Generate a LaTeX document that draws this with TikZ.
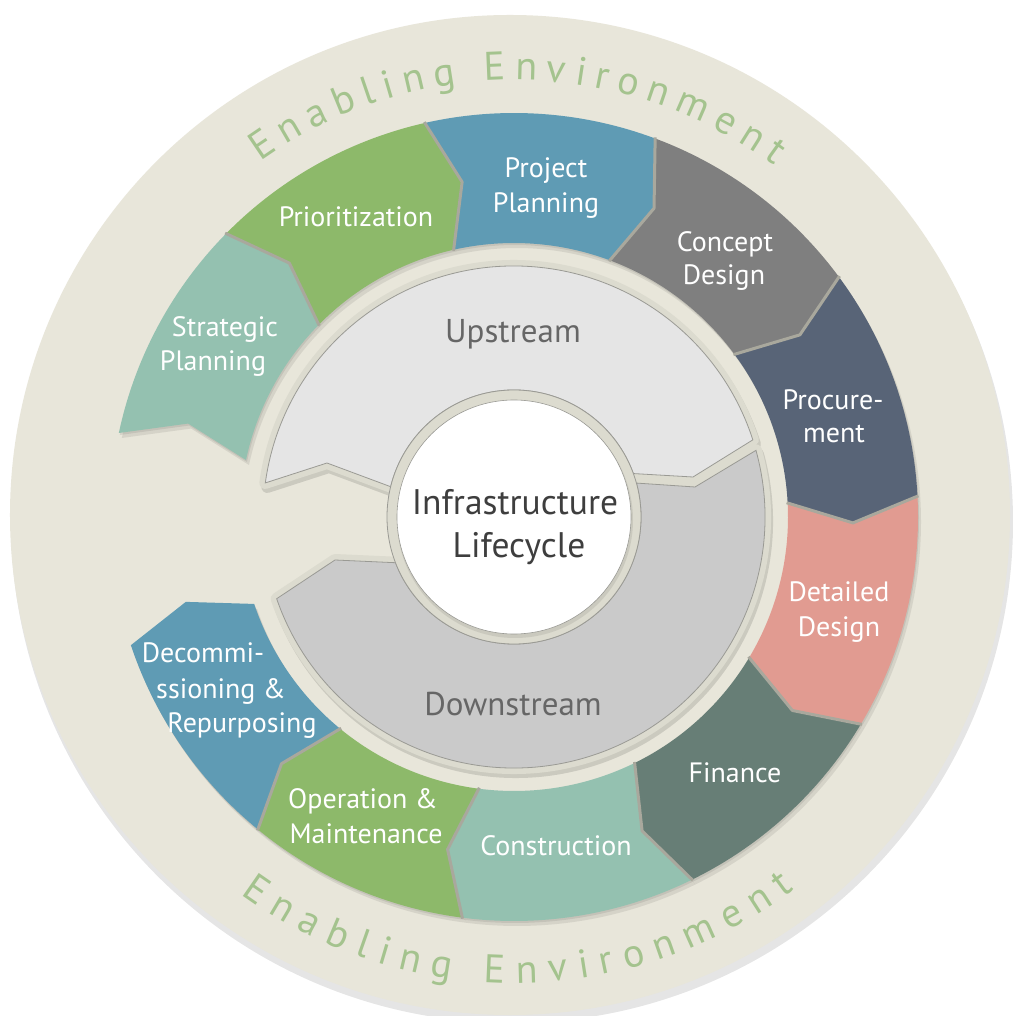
\documentclass[tikz,border=0pt]{standalone}
\usepackage{fontspec}
\setmainfont{PT Sans}
\usetikzlibrary{decorations.text}

\definecolor{bgbeige}{HTML}{E8E6DA}
\definecolor{framec}{HTML}{DCDBCF}
\definecolor{gapc}{HTML}{A9A89D}
\definecolor{ringline}{HTML}{9A9A94}
\definecolor{envgreen}{HTML}{A4C38E}
\definecolor{cTeal}{HTML}{94C1B0}
\definecolor{cGreen}{HTML}{8DB96A}
\definecolor{cBlue}{HTML}{5F9BB4}
\definecolor{cGrey}{HTML}{7F7F7F}
\definecolor{cSlate}{HTML}{586477}
\definecolor{cSalmon}{HTML}{E19B91}
\definecolor{cDark}{HTML}{677E76}
\definecolor{upc}{HTML}{E5E5E5}
\definecolor{downc}{HTML}{CACACA}
\definecolor{streamtext}{HTML}{666666}
\definecolor{hubtext}{HTML}{3E3E3E}

\pgfdeclareradialshading{hubshade}{\pgfpoint{0bp}{-2bp}}{color(0bp)=(white); color(36bp)=(white); color(46bp)=(black!5); color(50bp)=(black!20)}

\newcommand\segfill[3]{\fill[#3] (#1:404pt) arc[start angle=#1, end angle=#2, radius=404pt] -- ({#2-4}:339pt) -- (#2:274pt) arc[start angle=#2, end angle=#1, radius=274pt] -- ({#1-4}:339pt) -- cycle;}
\newcommand\segbound[1]{\draw[gapline] (#1:405pt) -- ({#1-4}:339pt) -- (#1:273pt);}
% label: name, x, y, text
\newcommand\lbl[4]{\node[lbl] (#1) at (#2,#3) {#4};}

\begin{document}
\begin{tikzpicture}[x=1pt,y=1pt,
  lbl/.style={text=white, font=\fontsize{28}{28}\selectfont, anchor=base, inner sep=0pt},
  streamlbl/.style={text=streamtext, font=\fontsize{33}{33}\selectfont, anchor=base, inner sep=0pt},
  hublbl/.style={text=hubtext, font=\fontsize{35.5}{35.5}\selectfont, anchor=base, inner sep=0pt},
  gapline/.style={draw=gapc, line width=3pt, line join=round},
  ringedge/.style={draw=ringline, line width=.8pt},
  envtext/.style={decorate, decoration={text along path, text color=envgreen,
      text={|\fontsize{40}{40}\selectfont|Enabling Environment}, text align={fit to path}}},
]
\useasboundingbox (-514,-499) rectangle (498,517);
\fill[white] (-514,-499) rectangle (498,517);

% outer disc
\fill[black, opacity=.10] (-2,-5) circle[radius=501pt];
\fill[bgbeige] (-4,2) circle[radius=500pt];

% enabling environment texts
\path[envtext] (125.5:437pt) arc[start angle=125.5, end angle=53.5, radius=437pt];
\path[envtext] (-126:466pt) arc[start angle=-126, end angle=-53, radius=466pt];

% segment shadows
\foreach \a/\b in {168/135.5, 135.5/102.8, 102.8/69.6, 69.6/36.5, 36.5/3, 3/-30.8, -30.8/-63.8, -63.8/-97.3, -97.3/-129.3, -129.3/-161.5}{
  \segfill{\a}{\b}{black, opacity=.08, xshift=1pt, yshift=-2pt}
  \segfill{\a}{\b}{black, opacity=.08, xshift=3pt, yshift=-5pt}
}
% segments
\foreach \a/\b/\c in {168/135.5/cTeal, 135.5/102.8/cGreen, 102.8/69.6/cBlue, 69.6/36.5/cGrey, 36.5/3/cSlate, 3/-30.8/cSalmon, -30.8/-63.8/cDark, -63.8/-97.3/cTeal, -97.3/-129.3/cGreen, -129.3/-161.5/cBlue}{
  \segfill{\a}{\b}{\c}
}
\foreach \a in {135.5, 102.8, 69.6, 36.5, 3, -30.8, -63.8, -97.3, -129.3}{
  \segbound{\a}
}

% upstream
\path[preaction={draw=black, draw opacity=.12, line width=12pt, line join=round, transform canvas={xshift=2pt, yshift=-4pt}},
      preaction={draw=framec, line width=12pt, line join=round},
      fill=upc, ringedge]
  (172.2:251pt) arc[start angle=172.2, end angle=17.9, radius=251pt] -- (179,40) -- (20:127pt)
  arc[start angle=20, end angle=166.2, radius=127pt] -- (-187,54) -- cycle;
% downstream
\path[preaction={draw=black, draw opacity=.12, line width=12pt, line join=round, transform canvas={xshift=2pt, yshift=-4pt}},
      preaction={draw=framec, line width=12pt, line join=round},
      fill=downc, ringedge]
  (15.4:251pt) arc[start angle=15.4, end angle=-161, radius=251pt] -- (-179,-43) -- (-158.9:127pt)
  arc[start angle=-158.9, end angle=15.5, radius=127pt] -- (181,30) -- cycle;

% hub
\fill[framec] (0,0) circle[radius=127pt];
\draw[ringedge] (0,0) circle[radius=127pt];
\fill[black, opacity=.08] (1,-3) circle[radius=118pt];
\shade[shading=hubshade] (0,0) circle[radius=117pt];
\draw[draw=ringline, line width=.6pt] (0,0) circle[radius=117pt];

% labels (image pixel frame)
\begin{scope}[shift={(-514pt,517pt)}, yscale=-1]
  \lbl{sp1}{225}{337}{Strategic}
  \lbl{sp2}{213}{371}{Planning}
  \lbl{prio}{356}{227}{Prioritization}
  \lbl{pp1}{546}{178}{Project}
  \lbl{pp2}{546}{213}{Planning}
  \lbl{cd1}{725}{252}{Concept}
  \lbl{cd2}{724}{285}{Design}
  \lbl{pr1}{833}{410}{Procure-}
  \lbl{pr2}{834}{443}{ment}
  \lbl{dd1}{839}{602}{Detailed}
  \lbl{dd2}{839}{637}{Design}
  \lbl{fin}{735}{782}{Finance}
  \lbl{con}{556}{855}{Construction}
  \lbl{om1}{363}{808}{Operation \&}
  \lbl{om2}{366}{843}{Maintenance}
  \lbl{de1}{203}{663}{Decommi-}
  \lbl{de2}{221}{698}{ssioning \&}
  \lbl{de3}{242}{732}{Repurposing}
  \node[streamlbl] (up) at (513,343) {Upstream};
  \node[streamlbl] (down) at (513,715) {Downstream};
  \node[hublbl] (hub1) at (515,515) {Infrastructure};
  \node[hublbl] (hub2) at (519,558) {Lifecycle};
\end{scope}
\end{tikzpicture}
\end{document}
